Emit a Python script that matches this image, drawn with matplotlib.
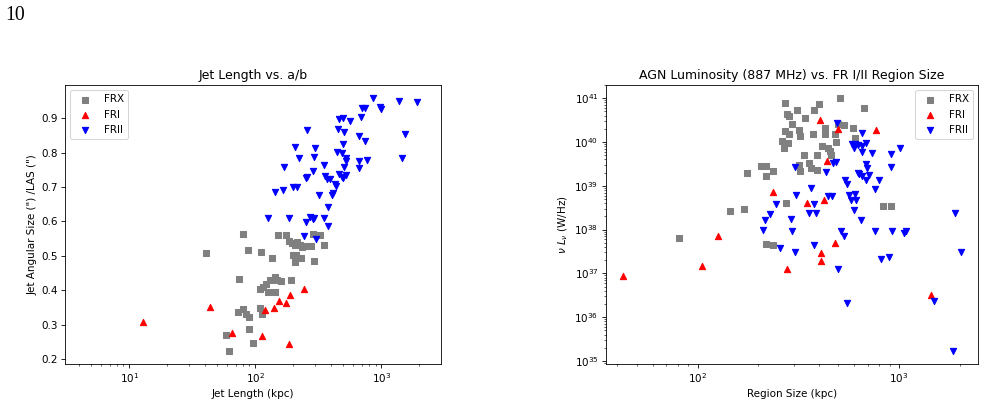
import matplotlib
matplotlib.use("Agg")
import matplotlib.pyplot as plt

# ---- Left panel: Jet length vs a/b ----
jet_len_frx = [79.3, 40.4, 86.9, 111, 151, 175, 186, 195, 205, 214, 227, 237, 257, 278, 285, 327, 348,
               136, 201, 210, 232, 208, 295, 74.6, 122, 130, 144, 150, 160, 110, 115, 127, 144, 192,
               72.4, 80, 85, 88.6, 110, 113, 88.6, 58.2, 95.9, 61.4]
ab_frx = [0.562, 0.508, 0.518, 0.512, 0.559, 0.559, 0.544, 0.537, 0.531, 0.539, 0.531, 0.525, 0.528,
          0.528, 0.563, 0.559, 0.531, 0.493, 0.501, 0.503, 0.493, 0.483, 0.486, 0.431, 0.419, 0.429,
          0.437, 0.429, 0.427, 0.402, 0.410, 0.395, 0.395, 0.429, 0.337, 0.344, 0.330, 0.322, 0.347,
          0.332, 0.288, 0.270, 0.245, 0.222]

jet_len_fri = [12.9, 43.5, 65.3, 114, 119, 140, 153, 174, 189, 242, 186]
ab_fri = [0.306, 0.350, 0.275, 0.267, 0.342, 0.347, 0.368, 0.363, 0.386, 0.402, 0.243]

jet_len_frii = [865, 1390, 1910, 700, 744, 978, 990, 466, 495, 566, 689, 257, 452, 507, 667, 744, 1545,
                208, 299, 443, 486, 495, 223, 290, 526, 526, 670, 767, 1469, 348, 170, 507, 670, 285,
                257, 254, 359, 370, 466, 486, 526, 495, 393, 430, 438, 201, 216, 166, 144, 321, 405,
                417, 381, 127, 184, 254, 273, 287, 294, 348, 377, 242, 304]
ab_frii = [0.960, 0.951, 0.946, 0.931, 0.931, 0.933, 0.928, 0.898, 0.901, 0.893, 0.904, 0.866, 0.870,
           0.859, 0.849, 0.833, 0.854, 0.815, 0.814, 0.801, 0.798, 0.825, 0.783, 0.786, 0.785, 0.775,
           0.777, 0.779, 0.783, 0.765, 0.759, 0.757, 0.754, 0.746, 0.730, 0.726, 0.733, 0.724, 0.738,
           0.730, 0.735, 0.727, 0.724, 0.709, 0.702, 0.699, 0.701, 0.692, 0.685, 0.678, 0.678, 0.682,
           0.641, 0.611, 0.611, 0.598, 0.612, 0.608, 0.611, 0.611, 0.586, 0.557, 0.548]

# ---- Right panel: luminosity vs region size ----
size_frx = [81.1, 144.5, 170.6, 275, 834, 916, 219, 237, 177, 207, 219, 218, 237, 318, 324, 359, 367,
            392, 339, 394, 459, 415, 442, 454, 486, 263, 280, 270, 273, 320, 284, 323, 376, 429, 429,
            481, 604, 295, 535, 593, 496, 342, 278, 283, 311, 380, 273, 399, 511, 671]
lum_frx = [6.4e37, 2.6e38, 2.95e38, 4.0e38, 3.4e38, 3.4e38, 4.7e37, 4.4e37, 1.98e39, 2.79e39, 2.79e39,
           1.69e39, 2.14e39, 3.0e39, 2.14e39, 3.27e39, 2.51e39, 2.34e39, 4.96e39, 4.96e39, 5.15e39,
           7.98e39, 7.45e39, 6.3e39, 1.02e40, 1.04e40, 9.4e39, 7.45e39, 1.75e40, 1.85e40, 1.5e40,
           1.35e40, 1.5e40, 2.13e40, 1.56e40, 1.56e40, 1.26e40, 2.54e40, 2.4e40, 2.07e40, 2.63e40,
           3.47e40, 4.4e40, 3.87e40, 5.3e40, 5.5e40, 7.8e40, 7.5e40, 1.03e41, 5.97e40]

size_fri = [404, 501, 766, 437, 238, 350, 423, 127, 105, 42.5, 278, 409, 409, 482, 1435]
lum_fri = [3.13e40, 2.02e40, 1.85e40, 3.66e39, 7.2e38, 3.98e38, 4.67e38, 7.1e37, 1.45e37, 8.6e36,
           1.29e37, 2.93e37, 1.92e37, 4.94e37, 3.28e36]

size_frii = [495, 655, 584, 606, 599, 623, 655, 690, 659, 733, 910, 1012, 486, 468, 306, 434, 690, 697,
             910, 623, 635, 654, 711, 684, 796, 541, 555, 759, 366, 310, 442, 465, 566, 606, 577, 615,
             246, 380, 228, 359, 387, 599, 647, 292, 217, 211, 293, 516, 535, 764, 926, 1059, 1084,
             257, 306, 378, 813, 894, 497, 549, 1489, 1905, 2041, 1854]
lum_frii = [2.72e40, 1.6e40, 9.2e39, 9.2e39, 7.45e39, 8.7e39, 8.0e39, 9.5e39, 5.9e39, 5.6e39, 5.4e39,
            7.45e39, 3.49e39, 3.39e39, 2.69e39, 2.03e39, 3.21e39, 2.6e39, 2.69e39, 1.96e39, 1.83e39,
            1.65e39, 1.8e39, 1.39e39, 1.39e39, 1.39e39, 1.12e39, 8.6e38, 9.1e38, 6.07e38, 5.76e38,
            5.76e38, 6.3e38, 6.4e38, 4.84e38, 4.84e38, 3.78e38, 3.78e38, 2.32e38, 2.39e38, 2.39e38,
            2.76e38, 1.63e38, 1.78e38, 1.63e38, 1.0e38, 9.5e37, 9.5e37, 7.2e37, 9.5e37, 9.1e37,
            8.45e37, 9.3e37, 3.88e37, 3.08e37, 4.45e37, 2.18e37, 2.37e37, 1.23e37, 2.1e36, 2.34e36,
            2.44e38, 3.08e37, 1.66e35]

labels = ["FRX", "FRI", "FRII"]

DPI = 75
fig = plt.figure(figsize=(987 / DPI, 408 / DPI), dpi=DPI)

ax1 = fig.add_axes([0.0659, 0.1078, 0.381, 0.684])
ax2 = fig.add_axes([0.6137, 0.1078, 0.3775, 0.684])

ax1.scatter(jet_len_frx, ab_frx, marker="s", color="gray", label=labels[0])
ax1.scatter(jet_len_fri, ab_fri, marker="^", color="red", label=labels[1])
ax1.scatter(jet_len_frii, ab_frii, marker="v", color="blue", label=labels[2])
ax1.set_xscale("log")
ax1.set_xlim(3.1, 2980)
ax1.set_xlabel("Jet Length (kpc)")
ax1.set_ylabel('Jet Angular Size (") /LAS (")')
ax1.set_title("Jet Length vs. a/b")
ax1.legend(loc="upper left")

ax2.scatter(size_frx, lum_frx, marker="s", color="gray", label=labels[0])
ax2.scatter(size_fri, lum_fri, marker="^", color="red", label=labels[1])
ax2.scatter(size_frii, lum_frii, marker="v", color="blue", label=labels[2])
ax2.set_xscale("log")
ax2.set_yscale("log")
ax2.set_xlabel("Region Size (kpc)")
ax2.set_ylabel(r"$\nu\ L_{\nu}$ (W/Hz)")
ax2.set_title("AGN Luminosity (887 MHz) vs. FR I/II Region Size")
ax2.legend(loc="upper right")

fig.text(0.005, 0.985, "10", family="Liberation Serif", fontsize=19, va="top", ha="left")

fig.savefig("out.png", dpi=DPI)
